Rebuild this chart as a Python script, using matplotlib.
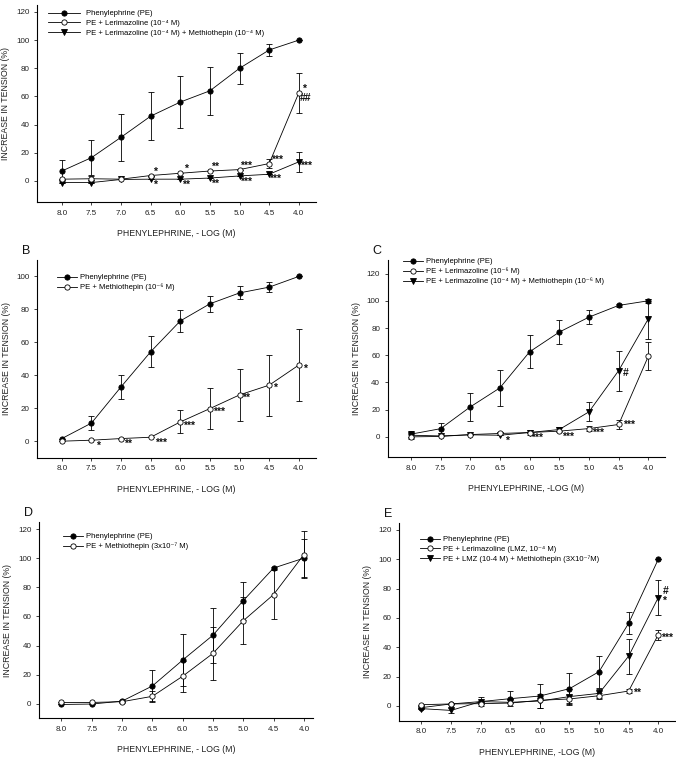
import matplotlib
matplotlib.use('Agg')
import matplotlib.pyplot as plt

plt.rcParams['font.family'] = ['Liberation Sans', 'DejaVu Sans']

x = [8.0, 7.5, 7.0, 6.5, 6.0, 5.5, 5.0, 4.5, 4.0]
xticklabels = ['8.0', '7.5', '7.0', '6.5', '6.0', '5.5', '5.0', '4.5', '4.0']

# panel A
a_pe = [7, 16.5, 31, 46, 56, 64, 80, 93, 100]
a_pe_err = [7.5, 12.3, 16.6, 16.8, 18.7, 17, 11, 4, 0]
a_lmz = [1.2, 1.5, 1.2, 3.8, 5.4, 7, 8, 12.3, 62.5]
a_lmz_err = [0, 2, 0, 0, 0, 0, 0, 3, 14]
a_met = [-1.2, -1.2, 1, 1.2, 1.2, 2, 3.5, 4.7, 13.5]
a_met_err = [0, 0, 0, 0, 0, 0, 0, 0, 7]
a_labels = ['Phenylephrine (PE)', 'PE + Lerimazoline (10⁻⁴ M)',
            'PE + Lerimazoline (10⁻⁴ M) + Methiothepin (10⁻⁴ M)']

# panel B
b_pe = [1.6, 11, 33, 54.3, 73, 83.4, 90, 93.5, 100]
b_pe_err = [0, 4, 7.3, 9.5, 6.7, 4.7, 4, 3, 0]
b_met = [0, 0.6, 1.6, 2.4, 11.7, 19.8, 28.1, 34, 46.2]
b_met_err = [0, 0, 0, 0, 7, 12.3, 16, 18.6, 21.8]
b_labels = ['Phenylephrine (PE)', 'PE + Methiothepin (10⁻⁶ M)']

# panel C
c_pe = [2, 6, 22, 36, 62.5, 77, 88, 96.6, 100]
c_pe_err = [2.5, 4.5, 10.6, 13, 12, 8.6, 5.3, 1, 1.5]
c_lmz = [0, 0.3, 1.7, 2.5, 3.2, 4.2, 6.1, 9.1, 59.3]
c_lmz_err = [0, 0, 0, 0, 0, 0, 2, 3, 10.3]
c_met = [1.2, 0.7, 1.5, 1.2, 3.2, 5.4, 18.4, 48.7, 86.8]
c_met_err = [3, 0, 0, 0, 2, 2, 7, 14.7, 14.7]
c_labels = ['Phenylephrine (PE)', 'PE + Lerimazoline (10⁻⁶ M)',
            'PE + Lerimazoline (10⁻⁴ M) + Methiothepin (10⁻⁶ M)']

# panel D
d_pe = [-0.5, -0.2, 1.8, 12.2, 30, 47.1, 70.8, 93.2, 100]
d_pe_err = [0, 0, 1, 11, 18, 19, 13, 1, 13]
d_met = [0.9, 0.9, 1.4, 5.1, 18.9, 34.6, 57, 75, 102.5]
d_met_err = [0, 0, 0, 3.5, 10.8, 18, 16, 17, 16]
d_labels = ['Phenylephrine (PE)', 'PE + Methiothepin (3x10⁻⁷ M)']

# panel E
e_pe = [-1.1, 1.4, 3, 5, 6.8, 11.8, 23.4, 56.4, 100]
e_pe_err = [0, 0, 0, 5, 8, 11, 11, 7.5, 0]
e_lmz = [0.9, 1.4, 1.6, 2, 3.9, 4.8, 7, 10.2, 48.6]
e_lmz_err = [0, 0, 0, 0, 0, 3, 2, 1.5, 3.5]
e_met = [-1.8, -3, 3, 2.5, 3.4, 6.4, 8.6, 34, 73.9]
e_met_err = [0, 1.5, 3, 0, 5, 5, 3, 12, 12]
e_labels = ['Phenylephrine (PE)', 'PE + Lerimazoline (LMZ, 10⁻⁴ M)',
            'PE + LMZ (10-4 M) + Methiothepin (3X10⁻⁷M)']

# significance marks: (series index, x, text, dx pt, dy pt)
a_marks = [(1, 6.5, '*', 2, 3), (1, 6.0, '*', 3, 3), (1, 5.5, '**', 1, 3), (1, 5.0, '***', 0, 3),
           (1, 4.5, '***', 1, 3), (1, 4.0, '*', 2, 3), (1, 4.0, '##', 1, -4),
           (2, 6.5, '*', 2, -4), (2, 6.0, '**', 1, -4), (2, 5.5, '**', 1, -4), (2, 5.0, '***', 0, -4),
           (2, 4.5, '***', 0, -3), (2, 4.0, '***', 1, -3)]
b_marks = [(1, 7.5, '*', 3, -4), (1, 7.0, '**', 2, -4), (1, 6.5, '***', 3, -4), (1, 6.0, '***', 2, -3),
           (1, 5.5, '***', 2, -2), (1, 5.0, '**', 2, -2), (1, 4.5, '*', 3, -2), (1, 4.0, '*', 3, -3)]
c_marks = [(2, 6.5, '*', 4, -4), (2, 6.0, '***', 1, -4), (2, 5.5, '***', 2, -5), (1, 5.0, '***', 2, -3),
           (1, 4.5, '***', 3, 0), (2, 4.5, '#', 3, -2)]
d_marks = []
e_marks = [(1, 4.5, '**', 3, -1), (1, 4.0, '***', 2, -2), (2, 4.0, '#', 3, 5), (2, 4.0, '*', 3, -2)]

panels = [
    ('', [0.0547, 0.7346, 0.4127, 0.2589], (8.42, 3.71), (-15, 125), range(0, 121, 20),
     [(a_pe, a_pe_err), (a_lmz, a_lmz_err), (a_met, a_met_err)], a_labels, a_marks,
     'PHENYLEPHRINE, - LOG (M)', (48, 10), 4.2, 0.8),
    ('B', [0.0547, 0.3986, 0.4127, 0.2598], (8.42, 3.71), (-10, 110), range(0, 101, 20),
     [(b_pe, b_pe_err), (b_met, b_met_err)], b_labels, b_marks,
     'PHENYLEPHRINE, - LOG (M)', (57, 274), 2.6, 0.45),
    ('C', [0.5735, 0.3991, 0.4102, 0.2593], (8.39, 3.72), (-15, 130), range(0, 121, 20),
     [(c_pe, c_pe_err), (c_lmz, c_lmz_err), (c_met, c_met_err)], c_labels, c_marks,
     'PHENYLEPHRINE, -LOG (M)', (403, 258), 2.6, 0.45),
    ('D', [0.0577, 0.0561, 0.4053, 0.2583], (8.37, 3.85), (-10, 125), range(0, 121, 20),
     [(d_pe, d_pe_err), (d_met, d_met_err)], d_labels, d_marks,
     'PHENYLEPHRINE, - LOG (M)', (63, 533), 2.6, 0.45),
    ('E', [0.5902, 0.0530, 0.4098, 0.2602], (8.38, 3.70), (-10, 125), range(0, 121, 20),
     [(e_pe, e_pe_err), (e_lmz, e_lmz_err), (e_met, e_met_err)],
     e_labels, e_marks, 'PHENYLEPHRINE, -LOG (M)', (420, 536), 2.6, 0.45),
]

styles = [dict(marker='o', mfc='black', mec='black'),
          dict(marker='o', mfc='white', mec='black'),
          dict(marker='v', mfc='black', mec='black')]

fig = plt.figure(figsize=(6.76, 7.61), dpi=100)
W, H = 676, 761

for tag, rect, xl, yl, yt, series, labels, marks, xlab, lpos, hl, hp in panels:
    ax = fig.add_axes(rect)
    handles = []
    for i, (vals, errs) in enumerate(series):
        st = styles[i]
        ax.errorbar(x, vals, yerr=errs, fmt='none', ecolor='black', elinewidth=0.6,
                    capsize=2.4, capthick=0.6, zorder=2 + i)
        h, = ax.plot(x, vals, color='black', lw=0.6, marker=st['marker'], ms=3.8,
                     mfc=st['mfc'], mec=st['mec'], mew=0.6, zorder=5 + (i == 1))
        handles.append(h)
    for si, xv, txt, dx, dy in marks:
        yv = series[si][0][x.index(xv)]
        ax.annotate(txt, (xv, yv), xytext=(dx, dy), textcoords='offset points',
                    ha='left', va='center', fontsize=7.5, fontweight='bold', color='#111',
                    annotation_clip=False)
    ax.set_xlim(*xl)
    ax.set_ylim(*yl)
    ax.set_xticks(x)
    ax.set_xticklabels(xticklabels)
    ax.set_yticks(list(yt))
    for s in ['top', 'right']:
        ax.spines[s].set_visible(False)
    for s in ['left', 'bottom']:
        ax.spines[s].set_linewidth(0.8)
    ax.tick_params(direction='out', length=2.5, width=0.6, labelsize=5.8, pad=3, colors='#222')
    ax.set_ylabel('INCREASE IN TENSION (%)', fontsize=6.3, color='#222', labelpad=4)
    ax.set_xlabel(xlab, fontsize=6.3, color='#222', labelpad=9)
    ax.legend(handles, labels, loc='upper left', bbox_to_anchor=(lpos[0] / W, 1 - lpos[1] / H),
              bbox_transform=fig.transFigure, frameon=False, fontsize=5.5, borderpad=0,
              borderaxespad=0, handlelength=hl, handletextpad=hp, labelspacing=0.3)
    if tag:
        fig.text(rect[0] - 0.022, rect[1] + rect[3] + 0.008, tag, fontsize=9, color='#111')

fig.savefig('out.png', dpi=100)
